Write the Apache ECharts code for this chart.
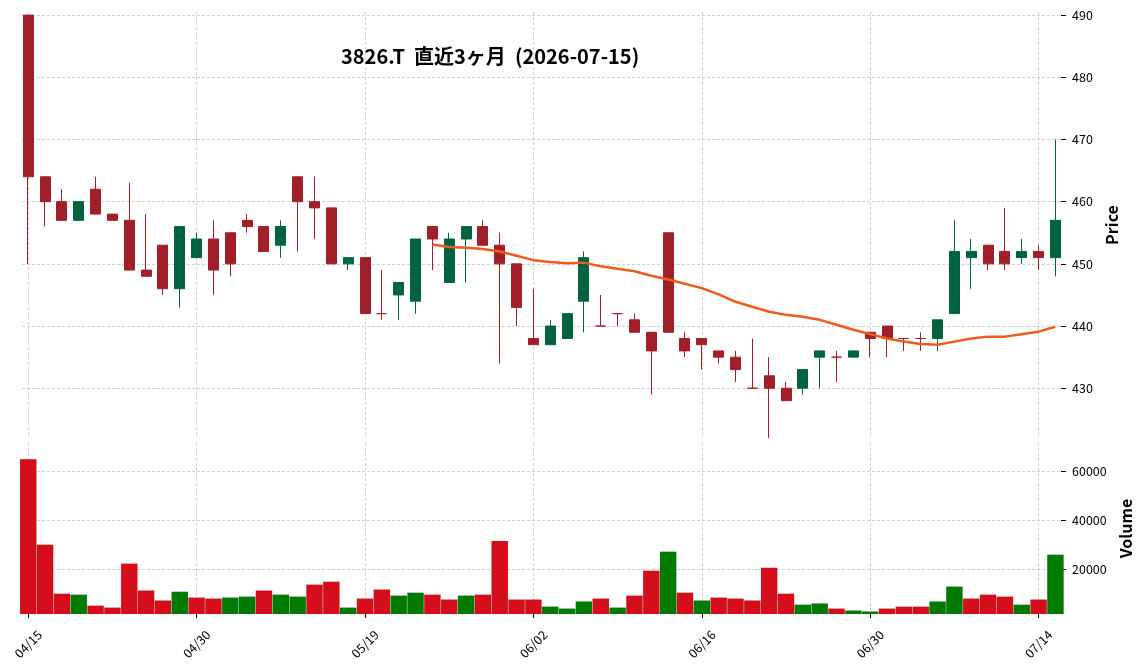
<!DOCTYPE html>
<html>
<head>
<meta charset="utf-8">
<script src="https://cdn.jsdelivr.net/npm/echarts@6/dist/echarts.min.js"></script>
<style>
html,body{margin:0;padding:0;background:#fff;}
#chart{width:1144px;height:671px;}
</style>
</head>
<body>
<div id="chart"></div>
<script>
const dates = ["04/15","04/16","04/17","04/20","04/21","04/22","04/23","04/24","04/27","04/28","04/30",
  "05/01","05/07","05/08","05/11","05/12","05/13","05/14","05/15","05/18","05/19","05/20","05/21","05/22","05/25","05/26","05/27","05/28","05/29",
  "06/01","06/02","06/03","06/04","06/05","06/08","06/09","06/10","06/11","06/12","06/15","06/16","06/17","06/18","06/19","06/22","06/23","06/24","06/25","06/26","06/29","06/30",
  "07/01","07/02","07/03","07/06","07/07","07/08","07/09","07/10","07/13","07/14","07/15"];
const opens  = [490,464,460,457,462,458,457,449,453,446,451,454,455,457,456,453,464,460,459,450,451,442,445,444,456,447,454,456,453,450,438,437,438,444,440,442,441,439,455,438,438,436,435,430,432,430,430,435,435,435,439,440,438,438,438,442,451,453,452,451,452,451];
const closes = [464,460,457,460,458,457,449,448,446,456,454,449,450,456,452,456,460,459,450,451,442,442,447,454,454,454,456,453,450,443,437,440,442,451,440,442,439,436,439,436,437,435,433,430,430,428,433,436,435,436,438,438,438,438,441,452,452,450,450,452,451,457];
const highs  = [490,464,462,460,464,458,463,458,453,456,455,457,455,458,456,457,464,464,459,451,451,449,447,454,456,455,456,457,455,450,446,441,442,452,445,442,442,439,455,439,438,436,436,438,435,431,433,436,436,436,439,440,438,439,441,457,454,453,459,454,453,470];
const lows   = [450,456,457,457,458,457,449,448,445,443,451,445,448,455,452,451,452,454,450,449,442,441,441,442,449,447,447,453,434,440,437,437,438,439,440,440,439,429,439,435,433,434,431,430,422,428,429,430,431,435,435,435,436,436,436,442,446,449,449,450,449,448];
const volumes = [65000,29900,9900,9500,5000,4200,22200,11200,7100,10700,8300,7900,8300,8700,11200,9500,8700,13600,14800,4200,7900,11600,9100,10300,9500,7500,9100,9500,31500,7500,7500,4600,3800,6700,7900,4200,9100,19300,27100,10300,7100,8300,7900,7100,20500,9900,5400,5900,3800,3000,2600,3800,4600,4600,6700,12800,7900,9500,8700,5400,7500,25900];
const maStart = 24;
const ma25 = [453.1,452.7,452.6,452.4,452.0,451.3,450.6,450.3,450.1,450.2,449.6,449.2,448.8,448.1,447.5,446.8,446.1,445.1,443.9,443.1,442.3,441.8,441.5,441.0,440.2,439.4,438.7,438.0,437.5,437.1,437.0,437.5,438.0,438.3,438.3,438.7,439.1,439.9];
const priceTicks = [430,440,450,460,470,480,490];
const volumeTicks = [20000,40000,60000];
const dateTickIdx = [0,10,20,30,40,50,60];
const titleText = "3826.T  直近3ヶ月  (2026-07-15)";

const UP_C = '#006340', DN_C = '#a01f29';
const VUP = '#007a00', VDN = '#d40f1b';
const GRIDC = '#c4c4c4';
const FONT = '"Noto Sans CJK JP", "Noto Sans", sans-serif';

const candleData = opens.map((o, i) => {
  const col = closes[i] > o ? UP_C : DN_C;
  return { value: [i, o, closes[i], lows[i], highs[i]],
    itemStyle: { color: col, color0: col, borderColor: col, borderColor0: col, borderColorDoji: col } };
});
const volData = volumes.map((v, i) => {
  const up = i > 0 && closes[i] > closes[i - 1];
  return { value: [i, v], itemStyle: { color: up ? VUP : VDN } };
});
const maData = ma25.map((v, k) => [maStart + k, v]);

const xMin = -0.37, xMax = dates.length - 1 + 0.33;
const splitLine = { show: true, lineStyle: { color: GRIDC, type: [3, 2], width: 0.8 } };
const yLabel = { margin: 11, fontSize: 12.5, color: '#000', fontFamily: FONT, formatter: v => String(v) };

const chart = echarts.init(document.getElementById('chart'), null, { renderer: 'canvas' });
chart.setOption({
  animation: false,
  backgroundColor: '#fff',
  textStyle: { fontFamily: FONT },
  title: {
    text: titleText, left: 336, top: 41,
    textStyle: { fontSize: 20, fontWeight: 'bold', color: '#000', fontFamily: FONT }
  },
  grid: [
    { left: 22, right: 83, top: 12, height: 426 },
    { left: 22, right: 83, top: 443, height: 171 }
  ],
  xAxis: [
    { type: 'value', gridIndex: 0, min: xMin, max: xMax,
      axisLine: { show: false, onZero: false }, axisTick: { show: false, customValues: dateTickIdx },
      axisLabel: { show: false, customValues: dateTickIdx }, splitLine },
    { type: 'value', gridIndex: 1, min: xMin, max: xMax,
      axisLine: { show: false, onZero: false },
      axisTick: { show: true, customValues: dateTickIdx, length: 4, lineStyle: { color: '#000' } },
      axisLabel: { show: true, customValues: dateTickIdx, rotate: 45, align: 'center', verticalAlign: 'middle',
        margin: 30, fontSize: 12.5, color: '#000', fontFamily: FONT,
        formatter: v => dates[Math.round(v)] || '' },
      splitLine }
  ],
  yAxis: [
    { type: 'value', gridIndex: 0, position: 'right', min: 422, max: 490.5,
      name: 'Price', nameLocation: 'middle', nameRotate: 90, nameGap: 41,
      nameTextStyle: { fontSize: 16, fontWeight: 'bold', color: '#000', fontFamily: FONT },
      axisLine: { show: false, onZero: false },
      axisTick: { show: true, customValues: priceTicks, length: 5, lineStyle: { color: '#000' } },
      axisLabel: Object.assign({ customValues: priceTicks }, yLabel),
      splitLine },
    { type: 'value', gridIndex: 1, position: 'right', min: 1500, max: 71500,
      name: 'Volume', nameLocation: 'middle', nameRotate: 90, nameGap: 53,
      nameTextStyle: { fontSize: 16, fontWeight: 'bold', color: '#000', fontFamily: FONT },
      axisLine: { show: false, onZero: false },
      axisTick: { show: true, customValues: volumeTicks, length: 5, lineStyle: { color: '#000' } },
      axisLabel: Object.assign({ customValues: volumeTicks }, yLabel),
      splitLine }
  ],
  series: [
    { type: 'candlestick', xAxisIndex: 0, yAxisIndex: 0, data: candleData, barWidth: 10.5 },
    { type: 'line', xAxisIndex: 0, yAxisIndex: 0, data: maData, showSymbol: false, symbol: 'none',
      lineStyle: { color: '#f05a1c', width: 2.5 }, z: 5 },
    { type: 'bar', xAxisIndex: 1, yAxisIndex: 1, data: volData, barWidth: '100%', barCategoryGap: 0,
      itemStyle: { borderColor: 'rgba(0,0,0,0.15)', borderWidth: 0.5 } }
  ]
});
</script>
</body>
</html>
